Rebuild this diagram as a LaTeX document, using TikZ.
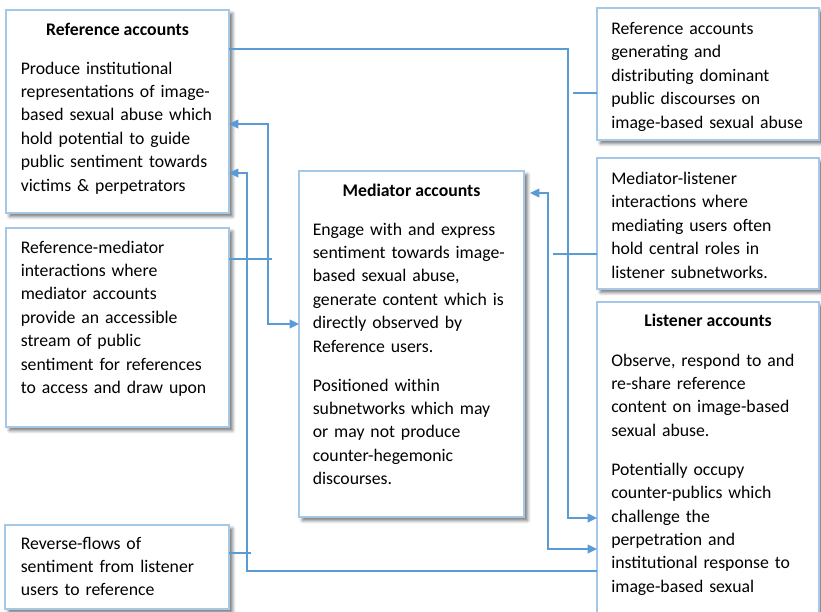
\documentclass[tikz,border=0pt]{standalone}
\usepackage{fontspec}
\setmainfont{Carlito}
\usetikzlibrary{arrows.meta,shadows.blur}
\definecolor{boxline}{RGB}{165,199,232}
\definecolor{flowline}{RGB}{91,155,213}
\begin{document}
\begin{tikzpicture}[x=0.75pt,y=-0.75pt,>={Triangle[length=7pt,width=6.5pt]},
  acct/.style={draw=boxline,line width=0.8pt,fill=white,anchor=north west,inner sep=0pt,outer sep=0pt,
    blur shadow={shadow xshift=2.6pt,shadow yshift=-2.6pt,shadow blur radius=2.4pt,shadow opacity=55}},
  head/.style={font=\fontsize{13.3pt}{17.6pt}\selectfont\bfseries,anchor=base,inner sep=0pt},
  body/.style={font=\fontsize{13.3pt}{17.6pt}\selectfont,anchor=base west,align=left,text width=162pt,inner sep=0pt},
  flow/.style={draw=flowline,line width=1.1pt}]
\useasboundingbox (0,0) rectangle (821,611);
%
\node[acct,minimum width=167.25pt,minimum height=152.25pt] (ref) at (6,10) {};
\node[acct,minimum width=167.25pt,minimum height=149.25pt] (rm) at (6,228) {};
\node[acct,minimum width=168pt,minimum height=63pt] (rev) at (5,525) {};
\node[acct,minimum width=168.75pt,minimum height=259.5pt] (med) at (299,171) {};
\node[acct,minimum width=166.5pt,minimum height=99pt] (gen) at (597,8) {};
\node[acct,minimum width=166.5pt,minimum height=98.25pt] (ml) at (597,158) {};
\node[acct,minimum width=166.5pt,minimum height=236pt] (lis) at (597,302) {};
%
\node[head] (refhead) at (117.5,35) {Reference accounts};
\node[body] (refbody) at (20.5,74) {Produce institutional\\representations of image-\\based sexual abuse which\\hold potential to guide\\public sentiment towards\\victims \& perpetrators};
\node[body] (rmbody) at (20.5,253) {Reference-mediator\\interactions where\\mediator accounts\\provide an accessible\\stream of public\\sentiment for references\\to access and draw upon};
\node[body] (revbody) at (20.5,549) {Reverse-flows of\\sentiment from listener\\users to reference};
\node[head] (medhead) at (411.5,196) {Mediator accounts};
\node[body] (medbody) at (312.5,235) {Engage with and express\\sentiment towards image-\\based sexual abuse,\\generate content which is\\directly observed by\\Reference users.\\[11.4pt]Positioned within\\subnetworks which may\\or may not produce\\counter-hegemonic\\discourses.};
\node[body] (genbody) at (611,34.5) {Reference accounts\\generating and\\distributing dominant\\public discourses on\\image-based sexual abuse};
\node[body] (mlbody) at (611,184.5) {Mediator-listener\\interactions where\\mediating users often\\hold central roles in\\listener subnetworks.};
\node[head] (lishead) at (708,326) {Listener accounts};
\node[body] (lisbody) at (611,366) {Observe, respond to and\\re-share reference\\content on image-based\\sexual abuse.\\[11.4pt]Potentially occupy\\counter-publics which\\challenge the\\perpetration and\\institutional response to\\image-based sexual};
%
\coordinate (k1) at (568,49);
\coordinate (k2) at (568,518);
\coordinate (k3) at (268,124);
\coordinate (k4) at (268,324);
\coordinate (k5) at (247,571);
\coordinate (k6) at (247,173);
\coordinate (k7) at (548,193);
\coordinate (k8) at (548,549);
\coordinate (s1) at (573,93);
\coordinate (s2) at (553,254);
\coordinate (s3) at (272,259);
\coordinate (s4) at (251,553);
%
\draw[flow,->] (ref.east |- k1) -- (k1) -- (k2) -- (lis.west |- k2);
\draw[flow,<->] (ref.east |- k3) -- (k3) -- (k4) -- (med.west |- k4);
\draw[flow,->] (lis.west |- k5) -- (k5) -- (k6) -- (ref.east |- k6);
\draw[flow,<->,shorten <=4.5pt] (med.east |- k7) -- (k7) -- (k8) -- (lis.west |- k8);
\draw[flow] (gen.west |- s1) -- (s1) (ml.west |- s2) -- (s2);
\draw[flow] (rm.east |- s3) -- (s3) (rev.east |- s4) -- (s4);
\end{tikzpicture}
\end{document}
